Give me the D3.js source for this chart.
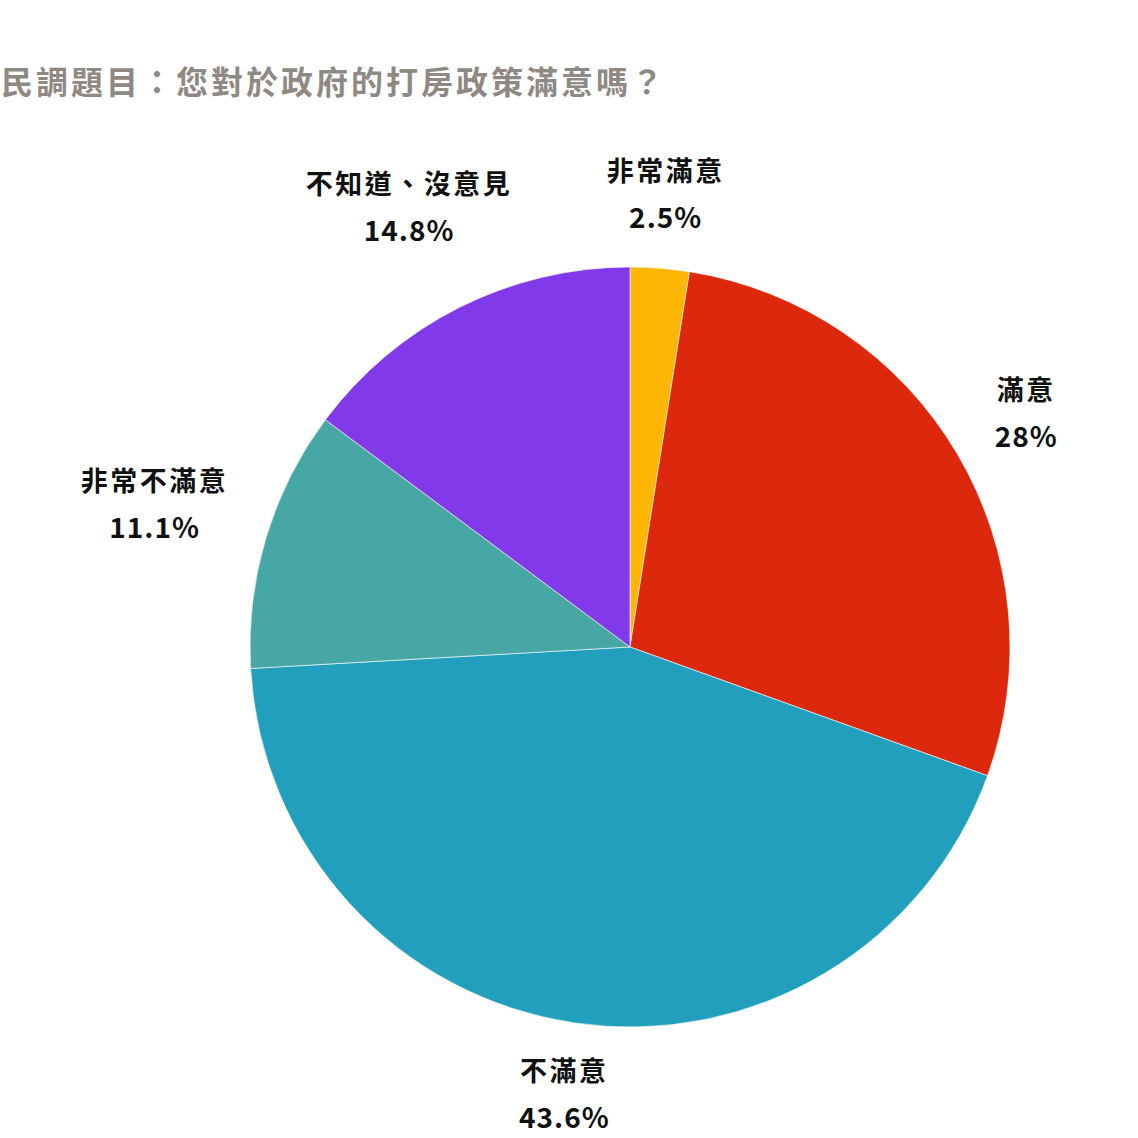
<!DOCTYPE html>
<html>
<head>
<meta charset="utf-8">
<script src="https://cdn.jsdelivr.net/npm/d3@7"></script>
<style>
  body { margin: 0; background: #fff; }
  text { font-family: "Noto Sans CJK TC", "Noto Sans", sans-serif; font-weight: 700; }
</style>
</head>
<body>
<div id="chart"></div>
<script>
// 民調資料
var title = "民調題目：您對於政府的打房政策滿意嗎？";
var categories = ["非常滿意", "滿意", "不滿意", "非常不滿意", "不知道、沒意見"];
var values = [2.5, 28, 43.6, 11.1, 14.8];
var valueLabels = ["2.5%", "28%", "43.6%", "11.1%", "14.8%"];
var colors = ["#FDB604", "#DC290E", "#219FBD", "#47A7A5", "#8139EA"];

var width = 1138, height = 1138;
var cx = 630, cy = 647, radius = 380;

var svg = d3.select("#chart").append("svg")
    .attr("width", width)
    .attr("height", height);

// title
svg.append("text")
    .attr("x", 1)
    .attr("y", 94)
    .attr("fill", "#8f8984")
    .style("font-size", "32px")
    .style("letter-spacing", "3px")
    .text(title);

var data = categories.map(function(c, i) { return {name: c, value: values[i], label: valueLabels[i], color: colors[i]}; });

var pie = d3.pie()
    .value(function(d) { return d.value; })
    .sort(null);

var arc = d3.arc()
    .innerRadius(0)
    .outerRadius(radius);

var g = svg.append("g")
    .attr("transform", "translate(" + cx + "," + cy + ")");

var arcs = pie(data);

g.selectAll(".slice")
    .data(arcs)
  .enter().append("path")
    .attr("class", "slice")
    .attr("d", arc)
    .attr("fill", function(d) { return d.data.color; })
    .attr("stroke", "#fff")
    .attr("stroke-width", 0.6);

// labels outside the pie, pushed out by their own box size
var labels = g.selectAll(".lbl")
    .data(arcs)
  .enter().append("g")
    .attr("class", "lbl");

labels.append("text")
    .attr("class", "name")
    .attr("text-anchor", "middle")
    .attr("y", -5)
    .style("font-size", "27px")
    .style("letter-spacing", "2.5px")
    .attr("fill", "#111")
    .text(function(d) { return d.data.name; });

labels.append("text")
    .attr("class", "pct")
    .attr("text-anchor", "middle")
    .attr("y", 42)
    .style("font-size", "28px")
    .style("letter-spacing", "1px")
    .attr("fill", "#111")
    .text(function(d) { return d.data.label; });

labels.each(function(d) {
  var node = d3.select(this);
  var w = Math.max(node.select(".name").node().getComputedTextLength(),
                   node.select(".pct").node().getComputedTextLength());
  var a = (d.startAngle + d.endAngle) / 2;
  var s = Math.sin(a), c = Math.cos(a);
  var r = radius + 36 + Math.abs(s) * w / 2 + Math.abs(c) * 34;
  var x = s * r, y = -c * r - 8;
  // keep the block inside the picture
  var bb = this.getBBox();
  var bottom = cy + y + bb.y + bb.height;
  if (bottom > height - 2) y -= bottom - (height - 2);
  node.attr("transform", "translate(" + x + "," + y + ")");
});
</script>
</body>
</html>
